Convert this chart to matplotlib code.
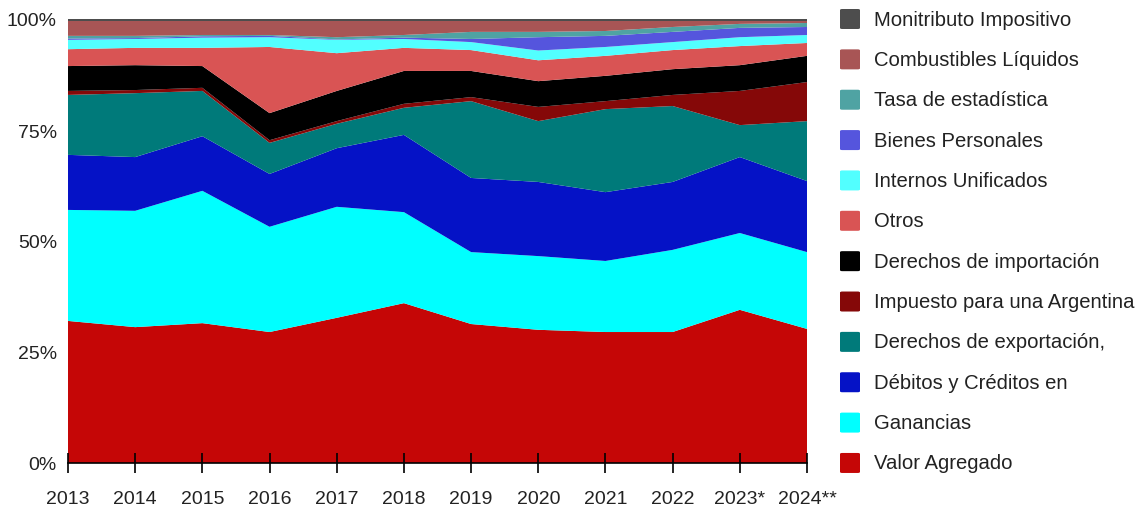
import matplotlib.pyplot as plt
from matplotlib.patches import FancyBboxPatch

plt.rcParams['font.family'] = ['Liberation Sans', 'DejaVu Sans']

anios = ['2013', '2014', '2015', '2016', '2017', '2018', '2019', '2020',
         '2021', '2022', '2023*', '2024**']

# participacion (%) de cada impuesto, de abajo hacia arriba
valor_agregado = [32.0, 30.6, 31.5, 29.5, 32.7, 36.0, 31.3, 30.0, 29.5, 29.5, 34.5, 30.2]
ganancias = [25.0, 26.2, 29.8, 23.7, 25.0, 20.5, 16.2, 16.6, 16.0, 18.5, 17.3, 17.3]
debitos_creditos = [12.4, 12.1, 12.3, 11.9, 13.2, 17.4, 16.7, 16.7, 15.5, 15.3, 17.1, 16.0]
derechos_exportacion = [13.5, 14.4, 10.2, 7.0, 5.5, 6.1, 17.3, 13.7, 18.7, 17.1, 7.2, 13.5]
impuesto_argentina = [0.9, 0.7, 0.7, 0.6, 0.6, 0.9, 0.9, 3.2, 1.8, 2.5, 7.7, 8.8]
derechos_importacion = [5.6, 5.6, 4.9, 6.1, 6.8, 7.4, 5.9, 5.8, 5.7, 5.8, 5.8, 5.9]
otros = [3.8, 3.9, 4.1, 14.9, 8.5, 5.2, 4.7, 4.7, 4.5, 4.3, 4.3, 2.9]
internos = [2.1, 2.0, 2.3, 2.2, 3.0, 2.0, 1.8, 2.2, 2.0, 1.8, 2.0, 1.8]
bienes_personales = [0.3, 0.2, 0.3, 0.3, 0.1, 0.3, 0.7, 3.0, 2.5, 2.3, 2.1, 1.8]
tasa_estadistica = [0.6, 0.5, 0.3, 0.2, 0.5, 0.6, 1.6, 1.2, 1.1, 1.1, 0.9, 0.9]
combustibles = [3.4, 3.4, 3.2, 3.2, 3.7, 3.2, 2.5, 2.5, 2.3, 1.4, 0.7, 0.5]
monotributo = [0.4, 0.4, 0.4, 0.4, 0.4, 0.4, 0.4, 0.4, 0.4, 0.4, 0.4, 0.4]

nombres = ['Valor Agregado', 'Ganancias', 'Débitos y Créditos en',
           'Derechos de exportación,', 'Impuesto para una Argentina',
           'Derechos de importación', 'Otros', 'Internos Unificados',
           'Bienes Personales', 'Tasa de estadística', 'Combustibles Líquidos',
           'Monitributo Impositivo']
colores = ['#c50606', '#00ffff', '#0512c6', '#007a7a', '#850808', '#000000',
           '#d95454', '#52ffff', '#5555dd', '#4fa3a3', '#a85555', '#4d4d4d']

series = [valor_agregado, ganancias, debitos_creditos, derechos_exportacion,
          impuesto_argentina, derechos_importacion, otros, internos,
          bienes_personales, tasa_estadistica, combustibles, monotributo]

fig = plt.figure(figsize=(11.41, 5.06), dpi=100)
ax = fig.add_axes([68 / 1141, 42 / 506, 739 / 1141, 444 / 506])

x = list(range(len(anios)))
ax.stackplot(x, *series, colors=colores, linewidth=0)

ax.set_xlim(0, len(anios) - 1)
ax.set_ylim(0, 100)
ax.axhline(100, color='#cccccc', lw=1.5, zorder=0.5)

ax.set_yticks([0, 25, 50, 75, 100])
ax.set_yticklabels(['0%', '25%', '50%', '75%', '100%'], fontsize=14, color='#222222')
ax.tick_params(axis='y', length=0, pad=8)
ax.set_xticks(x)
ax.set_xticklabels(anios, fontsize=14, color='#222222')
ax.tick_params(axis='x', direction='inout', length=14.5, width=1.2, pad=12)

for lado in ['top', 'right', 'left']:
    ax.spines[lado].set_visible(False)
ax.spines['bottom'].set_linewidth(1.2)

# leyenda: de arriba (Monotributo) hacia abajo (Valor Agregado)
W, H = 1141, 506
for i, (nombre, color) in enumerate(zip(nombres[::-1], colores[::-1])):
    yc = 20 + i * 40.36
    caja = FancyBboxPatch((840 / W, (H - yc - 10) / H), 20 / W, 20 / H,
                          boxstyle='round,pad=0,rounding_size=0.002',
                          transform=fig.transFigure, facecolor=color,
                          edgecolor='none')
    fig.add_artist(caja)
    fig.text(874 / W, (H - yc) / H, nombre, fontsize=14.6, color='#222222',
             va='center', ha='left')

fig.savefig('out.png', dpi=100)
